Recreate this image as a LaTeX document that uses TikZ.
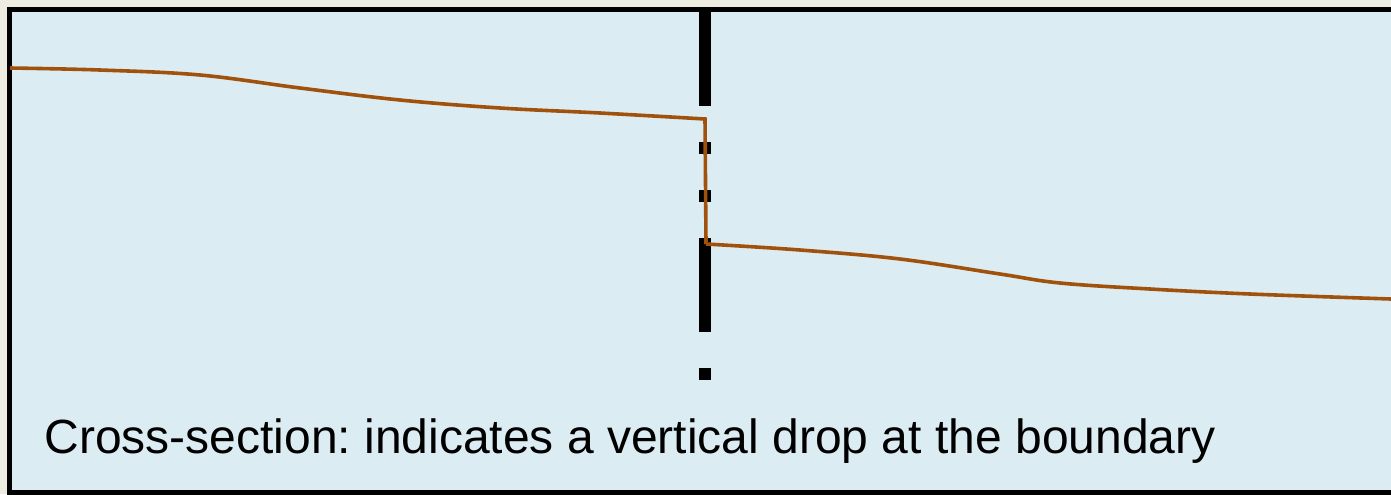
\documentclass[tikz,border=0pt]{standalone}
\usepackage{fontspec}
\setmainfont{Liberation Sans}
\frenchspacing
\definecolor{bgbeige}{HTML}{EEEBE0}
\definecolor{panelblue}{HTML}{DBEDF3}
\definecolor{profile}{HTML}{A0520C}
\begin{document}
\begin{tikzpicture}[x=0.5pt,y=-0.5pt,
  frame/.style={draw=black,line width=2.5pt,fill=panelblue},
  boundary/.style={draw=black,line width=6pt,dash pattern=on 47pt off 18pt on 6pt off 18pt on 6pt off 18pt},
  prof/.style={draw=profile,line width=1.8pt,line join=miter}]
\fill[bgbeige] (0,0) rectangle (1391,494);
\useasboundingbox (0,0) rectangle (1391,494);
\begin{scope}
\clip (0,0) rectangle (1391,494);
\path[frame] (9.5,9.5) rectangle (1400,492.5);
\end{scope}
\coordinate (btop) at (704.5,12);
\coordinate (bbot) at (704.5,382);
\draw[boundary] (btop) -- (bbot);
\coordinate (ltop) at (705,119);
\coordinate (rbot) at (706,244);
\draw[prof] plot[smooth,tension=0.6] coordinates {(10,68) (100,70) (200,75) (300,88) (400,100) (500,108) (600,113) (705,119)}
  -- (rbot)
  plot[smooth,tension=0.6] coordinates {(706,244) (800,250) (900,259) (1000,274) (1060,283) (1150,289) (1250,294) (1391,299)};
\node[anchor=base west,inner sep=0pt,font=\fontsize{24pt}{29pt}\selectfont] (caption) at (44,453) {Cross-section: indicates a vertical drop at the boundary};
\end{tikzpicture}
\end{document}
